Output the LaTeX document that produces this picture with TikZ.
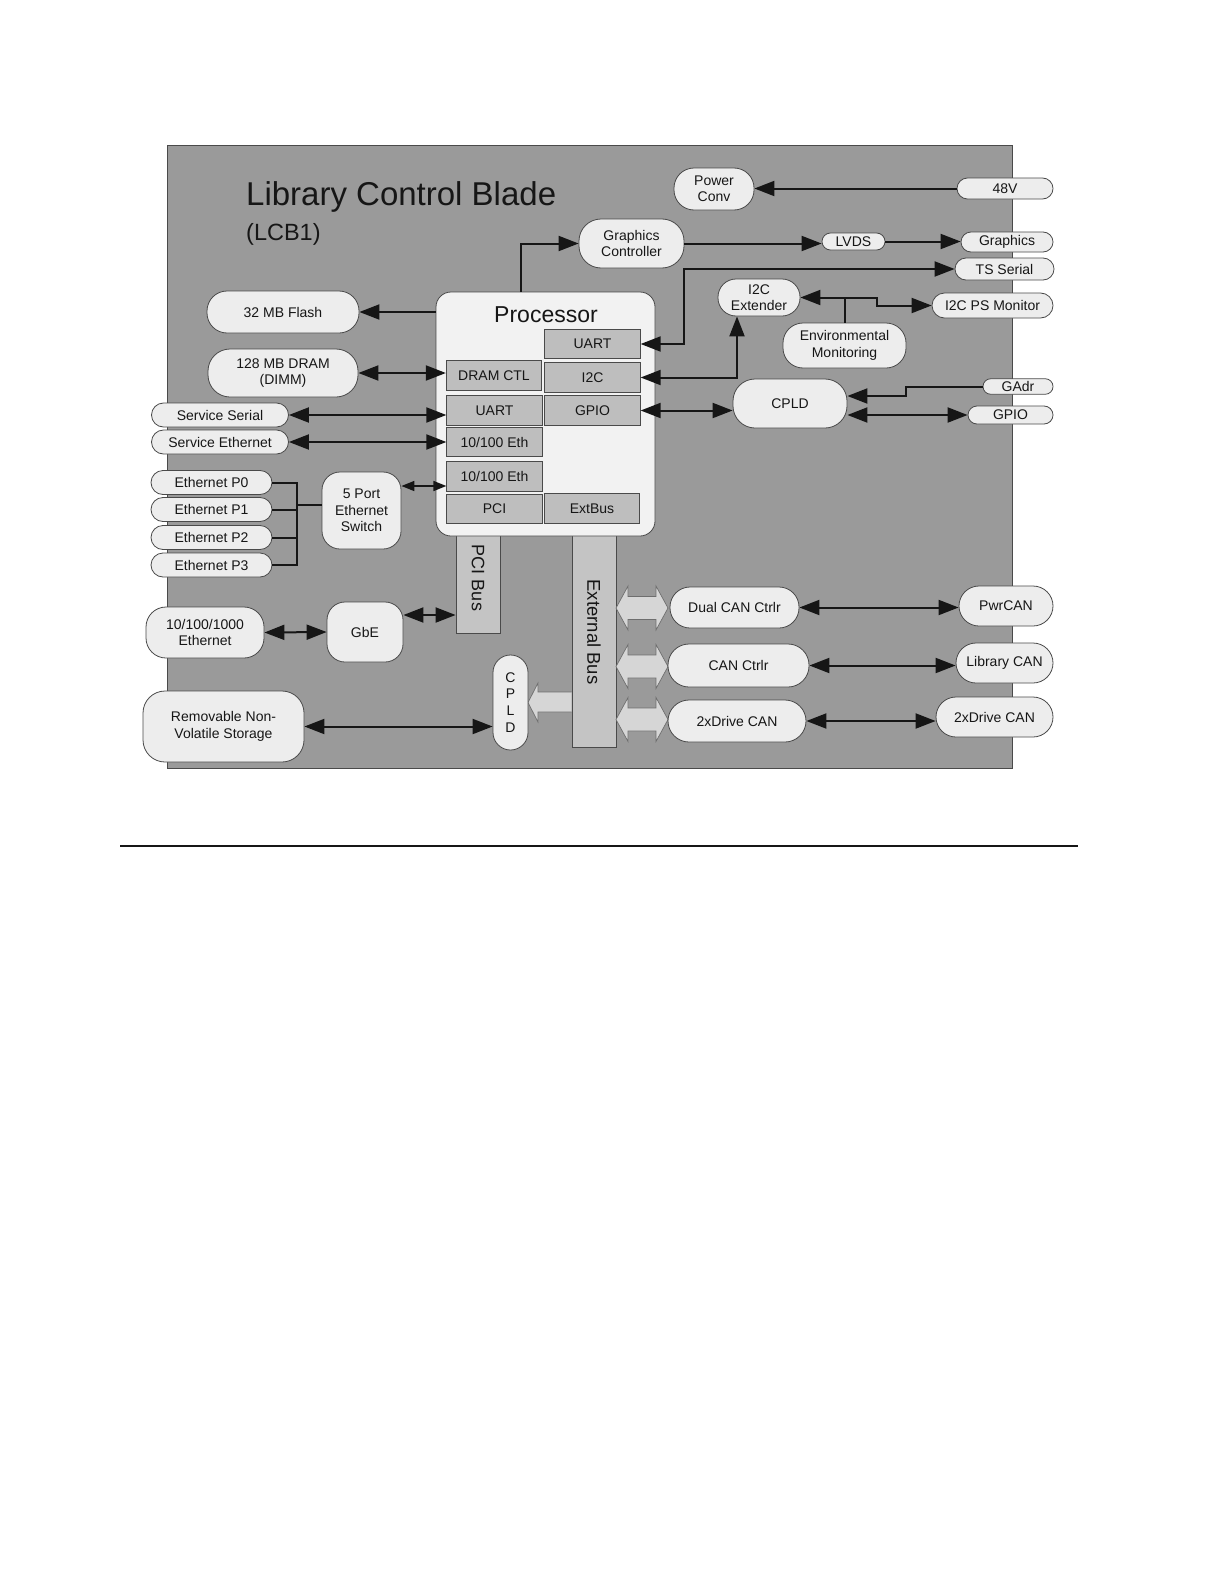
\documentclass[tikz,border=0pt]{standalone}
\usepackage{fontspec}
\setmainfont{Liberation Sans}
\usetikzlibrary{arrows.meta,calc}
\definecolor{bgray}{HTML}{9A9A9A}
\definecolor{nodefill}{HTML}{EDEDED}
\definecolor{procfill}{HTML}{F2F2F2}
\definecolor{innerfill}{HTML}{BEBEBE}
\definecolor{barfill}{HTML}{C4C4C4}
\definecolor{fatfill}{HTML}{D6D6D6}
\definecolor{edge}{HTML}{4A4A4A}
\definecolor{ink}{HTML}{161616}
\begin{document}
\begin{tikzpicture}[x=1pt,y=-1pt,
  basefont/.style={font=\fontsize{14}{16.5}\selectfont},
  nb/.style n args={3}{minimum width=#1, minimum height=#2, rounded corners=#3},
  box/.style={draw=edge, fill=nodefill, line width=0.8pt, align=center, inner sep=0pt, basefont, text=ink},
  inbox/.style={draw=edge, fill=innerfill, line width=0.8pt, inner sep=0pt, basefont, text=ink, minimum height=29.5, minimum width=95.5},
  bar/.style={draw=edge, fill=barfill, line width=0.8pt, inner sep=0pt},
  fat/.style={draw=edge!80, fill=fatfill, line width=0.7pt},
  conn/.style={line width=2pt, draw=ink},
  arr/.style={conn, -{Triangle[length=20pt,width=15pt]}},
  darr/.style={conn, {Triangle[length=20pt,width=15pt]}-{Triangle[length=20pt,width=15pt]}},
  sdarr/.style={conn, line width=1.6pt, {Triangle[length=13pt,width=10pt]}-{Triangle[length=13pt,width=10pt]}},
  ln/.style={conn}
]
\useasboundingbox (0,0) rectangle (1224,1584);
\fill[white] (0,0) rectangle (1224,1584);

% board
\draw[fill=bgray, draw=edge, line width=0.8pt] (167,145) rectangle (1012,768);

% title
\node[anchor=base west, inner sep=0pt, font=\fontsize{33}{36}\selectfont, text=ink] (title) at (246,205) {Library Control Blade};
\node[anchor=base west, inner sep=0pt, font=\fontsize{23.5}{26}\selectfont, text=ink] (subtitle) at (246,240) {(LCB1)};

% buses
\node[bar, minimum width=44, minimum height=113] (pcibus) at (478,576.5) {};
\node[bar, minimum width=44, minimum height=227] (extbus) at (594,633.5) {};
\node[rotate=-90, font=\fontsize{18}{20}\selectfont, text=ink] (pcilbl) at (478,578) {PCI Bus};
\node[rotate=-90, font=\fontsize{18.5}{20}\selectfont, text=ink] (extlbl) at (594,632) {External Bus};

% fat arrows
\foreach \cy in {608,666.5,719.5}{
  \draw[fat] (616,\cy) -- (628,\cy-22) -- (628,\cy-11.5) -- (656,\cy-11.5) -- (656,\cy-22) -- (668,\cy)
    -- (656,\cy+22) -- (656,\cy+11.5) -- (628,\cy+11.5) -- (628,\cy+22) -- cycle;
}
\draw[fat] (571.5,692) -- (538,692) -- (538,683) -- (528,702.5) -- (538,722) -- (538,712) -- (571.5,712);

% processor
\node[draw=edge, fill=procfill, line width=0.8pt, minimum width=219, minimum height=244, rounded corners=15, inner sep=0pt] (proc) at (545.5,414) {};
\node[anchor=base, inner sep=0pt, font=\fontsize{23}{26}\selectfont, text=ink] (proclbl) at (546,322) {Processor};
\node[inbox] (uartr) at (592.5,344) {UART};
\node[inbox] (dramctl) at (494,375.5) {DRAM CTL};
\node[inbox] (i2c) at (592.5,377.5) {I2C};
\node[inbox] (uartl) at (494.5,410.5) {UART};
\node[inbox] (gpio) at (592.5,410.5) {GPIO};
\node[inbox] (eth1) at (494.5,442) {10/100 Eth};
\node[inbox] (eth2) at (494.5,476.5) {10/100 Eth};
\node[inbox] (pci) at (494.5,509) {PCI};
\node[inbox] (extb) at (592,508.5) {ExtBus};

% left nodes
\node[box, nb={152}{42}{20}] (flash) at (283,312) {32 MB Flash};
\node[box, nb={150}{48}{22}] (dram) at (283,373) {128 MB DRAM\\(DIMM)};
\node[box, nb={137}{24}{12}] (sserial) at (220,415) {Service Serial};
\node[box, nb={137}{24}{12}] (seth) at (220,442) {Service Ethernet};
\node[box, nb={121}{24}{12}] (ep0) at (211.5,482.5) {Ethernet P0};
\node[box, nb={121}{24}{12}] (ep1) at (211.5,509.5) {Ethernet P1};
\node[box, nb={121}{24}{12}] (ep2) at (211.5,537.5) {Ethernet P2};
\node[box, nb={121}{24}{12}] (ep3) at (211.5,565) {Ethernet P3};
\node[box, nb={79}{77}{18}] (switch) at (361.5,510.5) {5 Port\\Ethernet\\Switch};
\node[box, nb={118}{51}{20}] (geth) at (205,632.5) {10/100/1000\\Ethernet};
\node[box, nb={76}{60}{18}] (gbe) at (365,632) {GbE};
\node[box, nb={161}{71}{22}] (storage) at (223.5,726.5) {Removable Non-\\Volatile Storage};
\node[box, nb={35}{95}{17.5}, font=\fontsize{14}{16.8}\selectfont] (cpldv) at (510.5,702.5) {C\\P\\L\\D};

% top / right nodes
\node[box, nb={105}{49}{22}] (gc) at (631.5,243.5) {Graphics\\Controller};
\node[box, nb={80}{42}{20}] (pconv) at (714,189) {Power\\Conv};
\node[box, nb={96}{21}{10.5}] (v48) at (1005,188.5) {48V};
\node[box, nb={63}{17}{8.5}] (lvds) at (853.5,241.5) {LVDS};
\node[box, nb={92}{20}{10}] (graphics) at (1007,242) {Graphics};
\node[box, nb={99}{22}{11}] (tsserial) at (1004.5,269) {TS Serial};
\node[box, nb={82}{37}{18}] (i2cext) at (759,297.5) {I2C\\Extender};
\node[box, nb={123}{45}{20}] (envmon) at (844.5,345.5) {Environmental\\Monitoring};
\node[box, nb={121}{25}{12.5}] (i2cps) at (992.5,305.5) {I2C PS Monitor};
\node[box, nb={114}{49}{22}] (cpldr) at (790,403.5) {CPLD};
\node[box, nb={70}{15.5}{7.7}] (gadr) at (1018,386.5) {GAdr};
\node[box, nb={85}{18}{9}] (gpior) at (1010.5,415) {GPIO};

% CAN nodes
\node[box, nb={129}{41}{20}] (dualcan) at (734.5,607.5) {Dual CAN Ctrlr};
\node[box, nb={94}{40}{20}] (pwrcan) at (1006,606) {PwrCAN};
\node[box, nb={141}{43}{21}] (canctrl) at (738.5,665.5) {CAN Ctrlr};
\node[box, nb={97}{40}{20}] (libcan) at (1004.5,663) {Library CAN};
\node[box, nb={138}{42}{21}] (d2left) at (737,721) {2xDrive CAN};
\node[box, nb={117}{40}{20}] (d2right) at (994.5,717) {2xDrive CAN};

% helper coordinates
\coordinate (ej) at (297,505);
\coordinate (sw1) at ($(switch.east)+(0,-24.5)$);
\coordinate (gbe1) at ($(gbe.east)+(0,-17)$);
\coordinate (tsb) at (684,269);
\coordinate (i2cb) at ($(i2cext.south)+(-22,0)$);
\coordinate (envj) at (envmon.north |- i2cext.east);
\coordinate (envk) at (877,297.5);
\coordinate (gb) at (906,396);

% connectors
\draw[arr] ([xshift=-24.5pt]proc.north) |- (gc.west);
\draw[arr] (flash.east -| proc.west) -- (flash.east);
\draw[darr] (dram.east) -- (dram.east -| dramctl.west);
\draw[darr] (sserial.east) -- (sserial.east -| uartl.west);
\draw[darr] (seth.east) -- (seth.east -| eth1.west);
\draw[ln] (ep0.east) -| (ej |- ep3.east) -- (ep3.east);
\draw[ln] (ep1.east) -- (ep1.east -| ej);
\draw[ln] (ep2.east) -- (ep2.east -| ej);
\draw[ln] (ej) -- (ej -| switch.west);
\draw[sdarr] (sw1) -- (sw1 -| eth2.west);
\draw[darr] (geth.east) -- (gbe.west);
\draw[darr] (gbe1) -- (gbe1 -| pcibus.west);
\draw[darr] (storage.east) -- (storage.east -| cpldv.west);

\draw[arr] (gc.east) -- (gc.east -| lvds.west);
\draw[arr] (lvds.east) -- (lvds.east -| graphics.west);
\draw[arr] (v48.west) -- (v48.west -| pconv.east);
\draw[darr] (uartr.east) -| (tsb) -- (tsb -| tsserial.west);
\draw[darr] (i2c.east) -| (i2cb);
\draw[conn] (envmon.north) -- (envj);
\draw[arr] (envj) -- (i2cext.east);
\draw[arr] (envj) -- (envk) |- (i2cps.west);
\draw[darr] (gpio.east) -- (gpio.east -| cpldr.west);
\draw[arr] (gadr.west) -| (gb) -- (gb -| cpldr.east);
\draw[darr] (gpior.west -| cpldr.east) -- (gpior.west);

\draw[darr] (dualcan.east) -- (dualcan.east -| pwrcan.west);
\draw[darr] (canctrl.east) -- (canctrl.east -| libcan.west);
\draw[darr] (d2left.east) -- (d2left.east -| d2right.west);

% rule
\draw[line width=1.3pt, ink] (120,846) -- (1078,846);
\end{tikzpicture}
\end{document}
